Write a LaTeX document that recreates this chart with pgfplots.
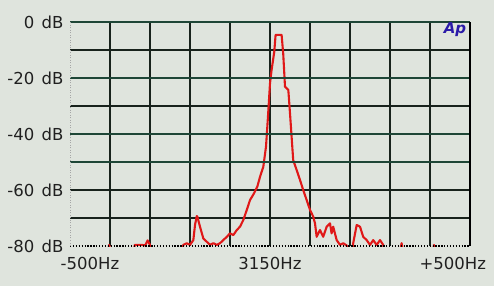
\documentclass[border=0pt]{standalone}
\usepackage{pgfplots}
\pgfplotsset{compat=1.18}
\usepackage{fontspec}
\setmainfont{DejaVu Sans}
\definecolor{bg}{HTML}{DFE4DD}
\definecolor{gridc}{HTML}{18221C}
\definecolor{gridg}{HTML}{1E4636}
\definecolor{trace}{HTML}{E01818}
\definecolor{logo}{HTML}{2A1AA8}
\definecolor{txt}{HTML}{202020}
\begin{document}
\begin{tikzpicture}
\fill[bg] (0,0) rectangle (494pt,286pt);
\useasboundingbox (0,0) rectangle (494pt,286pt);
\begin{axis}[
  at={(70pt,40pt)}, anchor=south west,
  scale only axis, width=400pt, height=224pt,
  xmin=-500, xmax=500, ymin=-80, ymax=0,
  axis line style={draw=none},
  major tick length=0pt,
  font=\fontsize{16.5}{18}\selectfont,
  tick label style={text=txt},
  xtick={-400,-300,...,400}, xticklabels={},
  ytick={-70,-60,...,-10},
  yticklabels={,\mbox{-60\hspace{0.45em}dB},,\mbox{-40\hspace{0.45em}dB},,\mbox{-20\hspace{0.45em}dB},},
  extra y ticks={-80,0},
  extra y tick labels={\mbox{-80\hspace{0.45em}dB},\mbox{0\hspace{0.45em}dB}},
  extra y tick style={grid=none},
  extra x ticks={-450,0,457},
  extra x tick labels={\mbox{-500Hz},\mbox{3150Hz},\mbox{+500Hz}},
  extra x tick style={grid=none, xticklabel style={yshift=-8pt}},
  grid=major,
  major grid style={gridc, line width=1.6pt},
  yticklabel style={xshift=-3pt},
  clip=true,
]
\addplot[trace, line width=2.1pt, line join=round] coordinates {
(-500,-85) (-410,-85) (-402,-79.6) (-396,-85)
(-345,-85) (-338,-79.6) (-320,-79.6) (-312,-79.8) (-306,-78) (-300,-79.6) (-294,-85)
(-224,-85) (-216.7,-79.6) (-208,-79) (-200,-79.6) (-191.7,-77.9) (-187.5,-72.5)
(-183,-69.3) (-181.7,-69.5) (-175,-73.1) (-166.7,-77.3) (-158,-78.5) (-150,-79.6)
(-141.7,-79) (-133,-79.6) (-125,-79) (-116.7,-77.9) (-108,-76.7) (-100,-75.5)
(-91.7,-76.1) (-83,-74.3) (-75,-73.1) (-66.7,-70.7) (-58,-67.1) (-50,-63.6)
(-40,-61.2) (-31.7,-58.8) (-25,-55.3) (-16.7,-51.7) (-10,-44.5) (-6.7,-37.4)
(-4,-31.4) (0,-21.9) (4,-17.1) (10.7,-10.6) (14,-4.6) (29,-4.6) (33,-11.2)
(37.5,-23.1) (45.8,-24.3) (50,-32.6) (54,-41) (58,-49.3) (66.7,-52.9) (75,-56.4)
(83,-60) (91.7,-63.6) (100,-67.1) (108,-69.5) (112.5,-71.9) (116.7,-76.7)
(125,-74.3) (133,-76.7) (141.7,-73.1) (150,-71.9) (154,-75.5) (158,-73.1)
(166.7,-77.9) (175,-79.6) (183,-79) (191.7,-79.8) (197,-85)
(203,-85) (208,-79) (216.7,-72.5) (225,-73.1) (233,-76.7) (241.7,-77.9) (250,-79.6)
(258,-77.9) (266.7,-79.6) (275,-77.9) (283,-79.6) (290,-85)
(322,-85) (329,-79) (336,-85)
(404,-85) (410,-79.6) (416,-85) (500,-85)
};
\end{axis}
\begin{scope}[shift={(70pt,40pt)}]
\draw[gridg, line width=1.6pt] (0,224pt) -- (400pt,224pt);
\draw[gridg, line width=1.6pt] (0,168pt) -- (400pt,168pt);
\draw[gridg, line width=1.6pt] (0,112pt) -- (400pt,112pt);
\draw[gridg, line width=1.6pt] (0,84pt) -- (400pt,84pt);
\draw[black, line width=1.6pt] (400pt,0) -- (400pt,224pt);
\draw[black, line width=1.3pt, dash pattern=on 1.3pt off 1.6pt] (0,0) -- (400pt,0);
\draw[gray!70, line width=0.8pt, dash pattern=on 1pt off 1.5pt] (0,0) -- (0,224pt);
\node[font=\bfseries\itshape\fontsize{15}{15}\selectfont, text=logo, inner sep=0pt] at (385pt,216pt) {Ap};
\end{scope}
\end{tikzpicture}
\end{document}
